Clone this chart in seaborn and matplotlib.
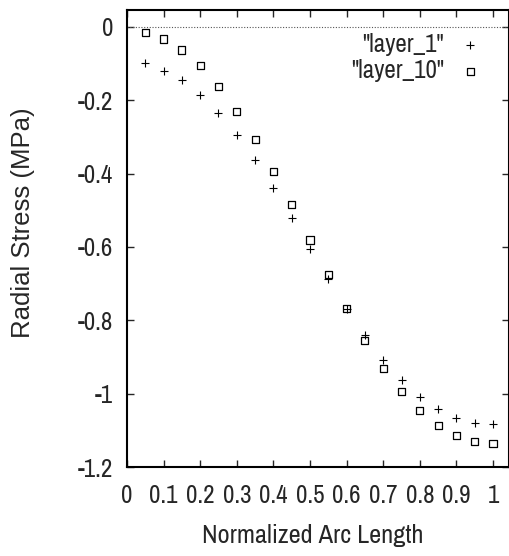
import matplotlib
matplotlib.use("Agg")
import matplotlib.pyplot as plt
import seaborn as sns
import pandas as pd

# data
arc_length = [0.05, 0.10, 0.15, 0.20, 0.25, 0.30, 0.35, 0.40, 0.45, 0.50,
              0.55, 0.60, 0.65, 0.70, 0.75, 0.80, 0.85, 0.90, 0.95, 1.00]
layer_1 = [-0.099, -0.119, -0.145, -0.185, -0.235, -0.294, -0.363, -0.440, -0.521, -0.606,
           -0.687, -0.769, -0.840, -0.908, -0.964, -1.008, -1.043, -1.067, -1.079, -1.083]
layer_10 = [-0.015, -0.033, -0.063, -0.106, -0.162, -0.230, -0.308, -0.395, -0.485, -0.581,
            -0.676, -0.769, -0.854, -0.931, -0.994, -1.047, -1.087, -1.115, -1.130, -1.135]
x_ticks = [0, 0.1, 0.2, 0.3, 0.4, 0.5, 0.6, 0.7, 0.8, 0.9, 1]
x_tick_labels = ["0", "0.1", "0.2", "0.3", "0.4", "0.5", "0.6", "0.7", "0.8", "0.9", "1"]
y_ticks = [0, -0.2, -0.4, -0.6, -0.8, -1, -1.2]
y_tick_labels = ["0", "-0.2", "-0.4", "-0.6", "-0.8", "-1", "-1.2"]

df1 = pd.DataFrame({"x": arc_length, "y": layer_1})
df10 = pd.DataFrame({"x": arc_length, "y": layer_10})

sns.set_style("ticks")
narrow = ["Archivo Narrow", "Roboto Condensed", "Liberation Sans", "DejaVu Sans"]
plt.rcParams["font.family"] = narrow

fig = plt.figure(figsize=(5.09, 5.56), dpi=100)
ax = fig.add_axes([0.2495, 0.16, 0.7505, 0.822])

# gnuplot style zero axis
ax.axhline(0, color="#555555", lw=0.8, ls=(0, (1, 1.5)), zorder=1)

sns.scatterplot(data=df1, x="x", y="y", marker="+", color="black", s=36,
                linewidth=0.8, ax=ax, label='"layer_1"', zorder=3)
sns.scatterplot(data=df10, x="x", y="y", marker="s", s=26, facecolors="none",
                edgecolor="black", linewidth=0.9, ax=ax, label='"layer_10"', zorder=3)

ax.set_xlim(0, 1.0437)
ax.set_ylim(-1.2, 0.046)
ax.set_xticks(x_ticks)
ax.set_xticklabels(x_tick_labels)
ax.set_yticks(y_ticks)
ax.set_yticklabels(y_tick_labels)
ax.tick_params(direction="in", length=5, width=1, top=True, right=True,
               labelsize=18)
ax.tick_params(axis="x", pad=12)
ax.tick_params(axis="y", pad=10)
for sp in ax.spines.values():
    sp.set_linewidth(1.5)
    sp.set_color("black")

ax.set_xlabel("Normalized Arc Length", fontsize=19)
ax.xaxis.set_label_coords(0.485, -0.125)
ax.set_ylabel("Radial Stress (MPa)", fontsize=18.5,
              family=["Liberation Sans", "DejaVu Sans"])
ax.yaxis.set_label_coords(-0.24, 0.534)

leg = ax.legend(loc="upper right", frameon=False, markerfirst=False,
                fontsize=18, handletextpad=0.55, labelspacing=0.15,
                handlelength=1.0, bbox_to_anchor=(0.99, 1.0))
for t in leg.get_texts():
    t.set_ha("right")

fig.savefig("out.png", dpi=100)
